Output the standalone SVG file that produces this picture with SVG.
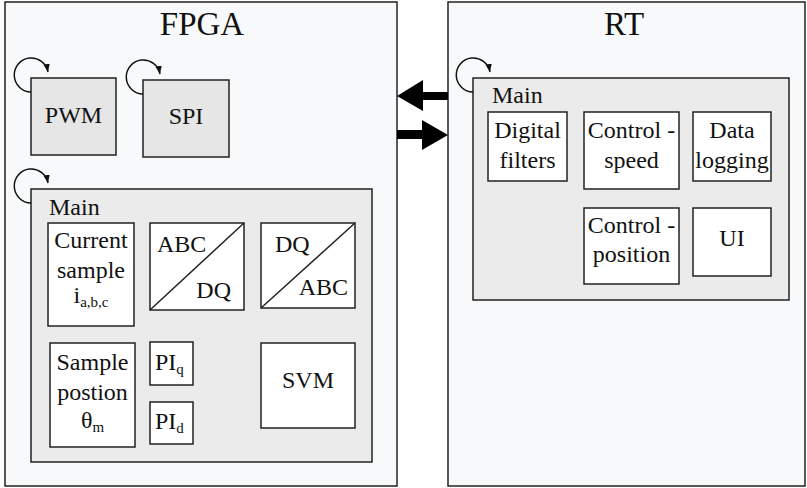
<svg xmlns="http://www.w3.org/2000/svg" width="807" height="488" viewBox="0 0 807 488">
<style>
.outer{fill:#f8f9fa;stroke:#222;stroke-width:1.5}
.main{fill:#ebebeb;stroke:#222;stroke-width:1.5}
.task{fill:#e6e6e6;stroke:#222;stroke-width:1.5}
.blk{fill:#fff;stroke:#222;stroke-width:1.5}
.t{font-size:24px}
.title{font-size:33px}
.sub{font-size:15px}
.loop{fill:none;stroke:#111;stroke-width:1.5}
</style>
<defs>
<marker id="ah" viewBox="0 0 10 10" refX="10" refY="5" markerWidth="8" markerHeight="8" markerUnits="userSpaceOnUse" orient="auto"><path d="M0,1 L10,5 L0,9 Z" fill="#111"/></marker>
</defs>
<rect width="807" height="488" fill="#fff"/>
<g font-family="Liberation Serif, Times New Roman, serif" fill="#111">
<g id="fpga">
<rect class="outer" x="5" y="2" width="392" height="484"/>
<text class="title" x="202" y="35" text-anchor="middle">FPGA</text>
</g>
<g id="rt">
<rect class="outer" x="448" y="2" width="357" height="484"/>
<text class="title" x="624" y="35" text-anchor="middle">RT</text>
</g>
<g id="pwm">
<rect class="task" x="31" y="78" width="85" height="77"/>
<text class="t" x="73.5" y="123" text-anchor="middle">PWM</text>
</g>
<g id="spi">
<rect class="task" x="143" y="80" width="86" height="77"/>
<text class="t" x="186" y="124" text-anchor="middle">SPI</text>
</g>
<g id="fpga-main">
<rect class="main" x="31" y="189" width="341" height="273"/>
<text class="t" x="49" y="215">Main</text>
</g>
<g id="current">
<rect class="blk" x="48" y="223" width="86" height="103"/>
<text class="t" x="91" y="248" text-anchor="middle">Current</text>
<text class="t" x="91" y="278" text-anchor="middle">sample</text>
<text class="t" x="91" y="303" text-anchor="middle">i<tspan class="sub" dy="4">a,b,c</tspan></text>
</g>
<g id="abc-dq">
<rect class="blk" x="150" y="223" width="94" height="87"/>
<line x1="150" y1="310" x2="244" y2="223" stroke="#222" stroke-width="1.5"/>
<text class="t" x="157" y="252">ABC</text>
<text class="t" x="231" y="298" text-anchor="end">DQ</text>
</g>
<g id="dq-abc">
<rect class="blk" x="261" y="223" width="94" height="85"/>
<line x1="261" y1="308" x2="355" y2="223" stroke="#222" stroke-width="1.5"/>
<text class="t" x="275" y="252">DQ</text>
<text class="t" x="348" y="295" text-anchor="end">ABC</text>
</g>
<g id="position">
<rect class="blk" x="50" y="343" width="85" height="104"/>
<text class="t" x="92.5" y="370" text-anchor="middle">Sample</text>
<text class="t" x="92.5" y="400" text-anchor="middle">postion</text>
<text class="t" x="92.5" y="428" text-anchor="middle">θ<tspan class="sub" dy="4">m</tspan></text>
</g>
<g id="piq">
<rect class="blk" x="150" y="342" width="43" height="43"/>
<text class="t" x="155" y="370">PI<tspan class="sub" dy="4">q</tspan></text>
</g>
<g id="pid">
<rect class="blk" x="150" y="402" width="43" height="42"/>
<text class="t" x="155" y="429">PI<tspan class="sub" dy="4">d</tspan></text>
</g>
<g id="svm">
<rect class="blk" x="261" y="343" width="94" height="85"/>
<text class="t" x="308" y="388" text-anchor="middle">SVM</text>
</g>
<g id="rt-main">
<rect class="main" x="473" y="78" width="316" height="222"/>
<text class="t" x="492" y="103">Main</text>
</g>
<g id="filters">
<rect class="blk" x="488" y="112" width="79" height="69"/>
<text class="t" x="527.5" y="138" text-anchor="middle">Digital</text>
<text class="t" x="527.5" y="168" text-anchor="middle">filters</text>
</g>
<g id="speed">
<rect class="blk" x="584" y="112" width="95" height="77"/>
<text class="t" x="631.5" y="138" text-anchor="middle">Control -</text>
<text class="t" x="631.5" y="168" text-anchor="middle">speed</text>
</g>
<g id="logging">
<rect class="blk" x="693" y="112" width="78" height="69"/>
<text class="t" x="732" y="138" text-anchor="middle">Data</text>
<text class="t" x="732" y="168" text-anchor="middle">logging</text>
</g>
<g id="cpos">
<rect class="blk" x="584" y="208" width="95" height="76"/>
<text class="t" x="631.5" y="233" text-anchor="middle">Control -</text>
<text class="t" x="631.5" y="262" text-anchor="middle">position</text>
</g>
<g id="ui">
<rect class="blk" x="693" y="208" width="78" height="68"/>
<text class="t" x="732" y="246" text-anchor="middle">UI</text>
</g>
</g>
<g id="connectors">
<path class="loop" d="M31,92 A17,17 0 1 1 48,72" marker-end="url(#ah)"/>
<path class="loop" d="M143,94 A17,17 0 1 1 160,74" marker-end="url(#ah)"/>
<path class="loop" d="M31,203 A17,17 0 1 1 48,183" marker-end="url(#ah)"/>
<path class="loop" d="M473,92 A17,17 0 1 1 490,72" marker-end="url(#ah)"/>
<path d="M448,92 L423,92 L423,80 L397,96 L423,111 L423,100 L448,100 Z" fill="#000"/>
<path d="M397,130 L422,130 L422,120 L448,135 L422,150 L422,139 L397,139 Z" fill="#000"/>
</g>
</svg>
